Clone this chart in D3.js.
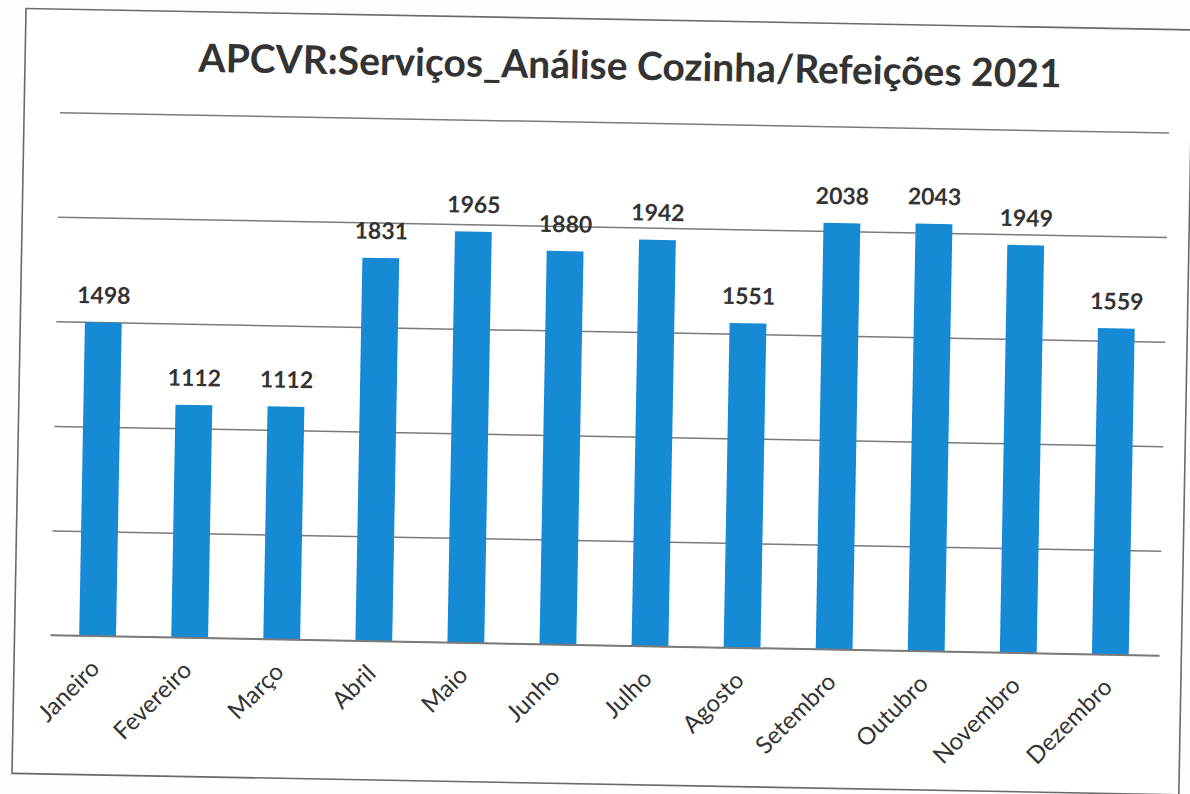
<!DOCTYPE html>
<html>
<head>
<meta charset="utf-8">
<script src="https://cdn.jsdelivr.net/npm/d3@7"></script>
<style>
  html, body { margin: 0; padding: 0; background: #fefefe; }
  svg { display: block; }
</style>
</head>
<body>
<svg id="canvas"></svg>
<script>
(function () {

    const width = 1190;
    const height = 794;
    const barColor = "rgb(22, 138, 212)";
    const gridColor = "#7a7a7a";
    const textColor = "#333333";
    const tilt = 1.05;

    const months = ["Janeiro", "Fevereiro", "Março", "Abril", "Maio", "Junho",
        "Julho", "Agosto", "Setembro", "Outubro", "Novembro", "Dezembro"];
    const meals = [1498, 1112, 1112, 1831, 1965, 1880, 1942, 1551, 2038, 2043, 1949, 1559];
    const yTicks = [0, 500, 1000, 1500, 2000, 2500];
    const title = "APCVR:Serviços_Análise Cozinha/Refeições 2021";

    const plot = { left: 56, right: 1161, top: 122, bottom: 645 };

    const svg = d3.select("#canvas")
        .attr("width", width)
        .attr("height", height);

    // the scanned page is a little tilted
    const page = svg.append("g")
        .attr("transform", `rotate(${tilt}, ${width / 2}, ${height / 2})`);

    page.append("rect")
        .attr("x", 19)
        .attr("y", 19)
        .attr("width", 1167)
        .attr("height", 765)
        .attr("fill", "#ffffff")
        .attr("stroke", "#6a6a6a")
        .attr("stroke-width", 1.6);

    const x = d3.scaleBand()
        .domain(months)
        .range([plot.left, plot.right])
        .paddingInner(0.6)
        .paddingOuter(0.3);

    const y = d3.scaleLinear()
        .domain([0, 2500])
        .range([plot.bottom, plot.top]);

    // gridlines
    const grid = d3.axisLeft(y)
        .tickValues(yTicks)
        .tickSize(-(plot.right - plot.left + 4))
        .tickFormat("");

    page.append("g")
        .attr("transform", `translate(${plot.left - 1}, 0)`)
        .call(grid)
        .call(g => g.select(".domain").remove())
        .call(g => g.selectAll(".tick line")
            .attr("stroke", gridColor)
            .attr("stroke-width", 1.5));

    // bars
    page.selectAll("rect.bar")
        .data(meals)
        .enter()
        .append("rect")
        .attr("class", "bar")
        .attr("x", (d, i) => x(months[i]))
        .attr("y", d => y(d))
        .attr("width", x.bandwidth())
        .attr("height", d => y(0) - y(d))
        .attr("fill", barColor);

    // value labels
    page.selectAll("text.value")
        .data(meals)
        .enter()
        .append("text")
        .attr("class", "value")
        .attr("x", (d, i) => x(months[i]) + x.bandwidth() / 2)
        .attr("y", d => y(d) - 19)
        .attr("text-anchor", "middle")
        .attr("font-family", "Lato, 'Open Sans', sans-serif")
        .attr("font-weight", "bold")
        .attr("font-size", 23)
        .attr("fill", textColor)
        .text(d => d);

    // category axis
    const xAxis = d3.axisBottom(x).tickSize(0);

    page.append("g")
        .attr("transform", `translate(0, ${plot.bottom})`)
        .call(xAxis)
        .call(g => g.select(".domain")
            .attr("stroke", gridColor)
            .attr("stroke-width", 1.5)
            .attr("d", `M${plot.left - 1},0H${plot.right + 3}`))
        .call(g => g.selectAll(".tick text")
            .attr("font-family", "Lato, 'Open Sans', sans-serif")
            .attr("font-size", 24)
            .attr("fill", textColor)
            .attr("text-anchor", "end")
            .attr("dy", 0)
            .attr("y", 0)
            .attr("transform", "translate(4, 34) rotate(-46)"));

    // title
    page.append("text")
        .attr("x", 624)
        .attr("y", 79)
        .attr("text-anchor", "middle")
        .attr("font-family", "Lato, 'Open Sans', sans-serif")
        .attr("font-weight", "bold")
        .attr("font-size", 39)
        .attr("fill", textColor)
        .text(title);

})();
</script>
</body>
</html>
